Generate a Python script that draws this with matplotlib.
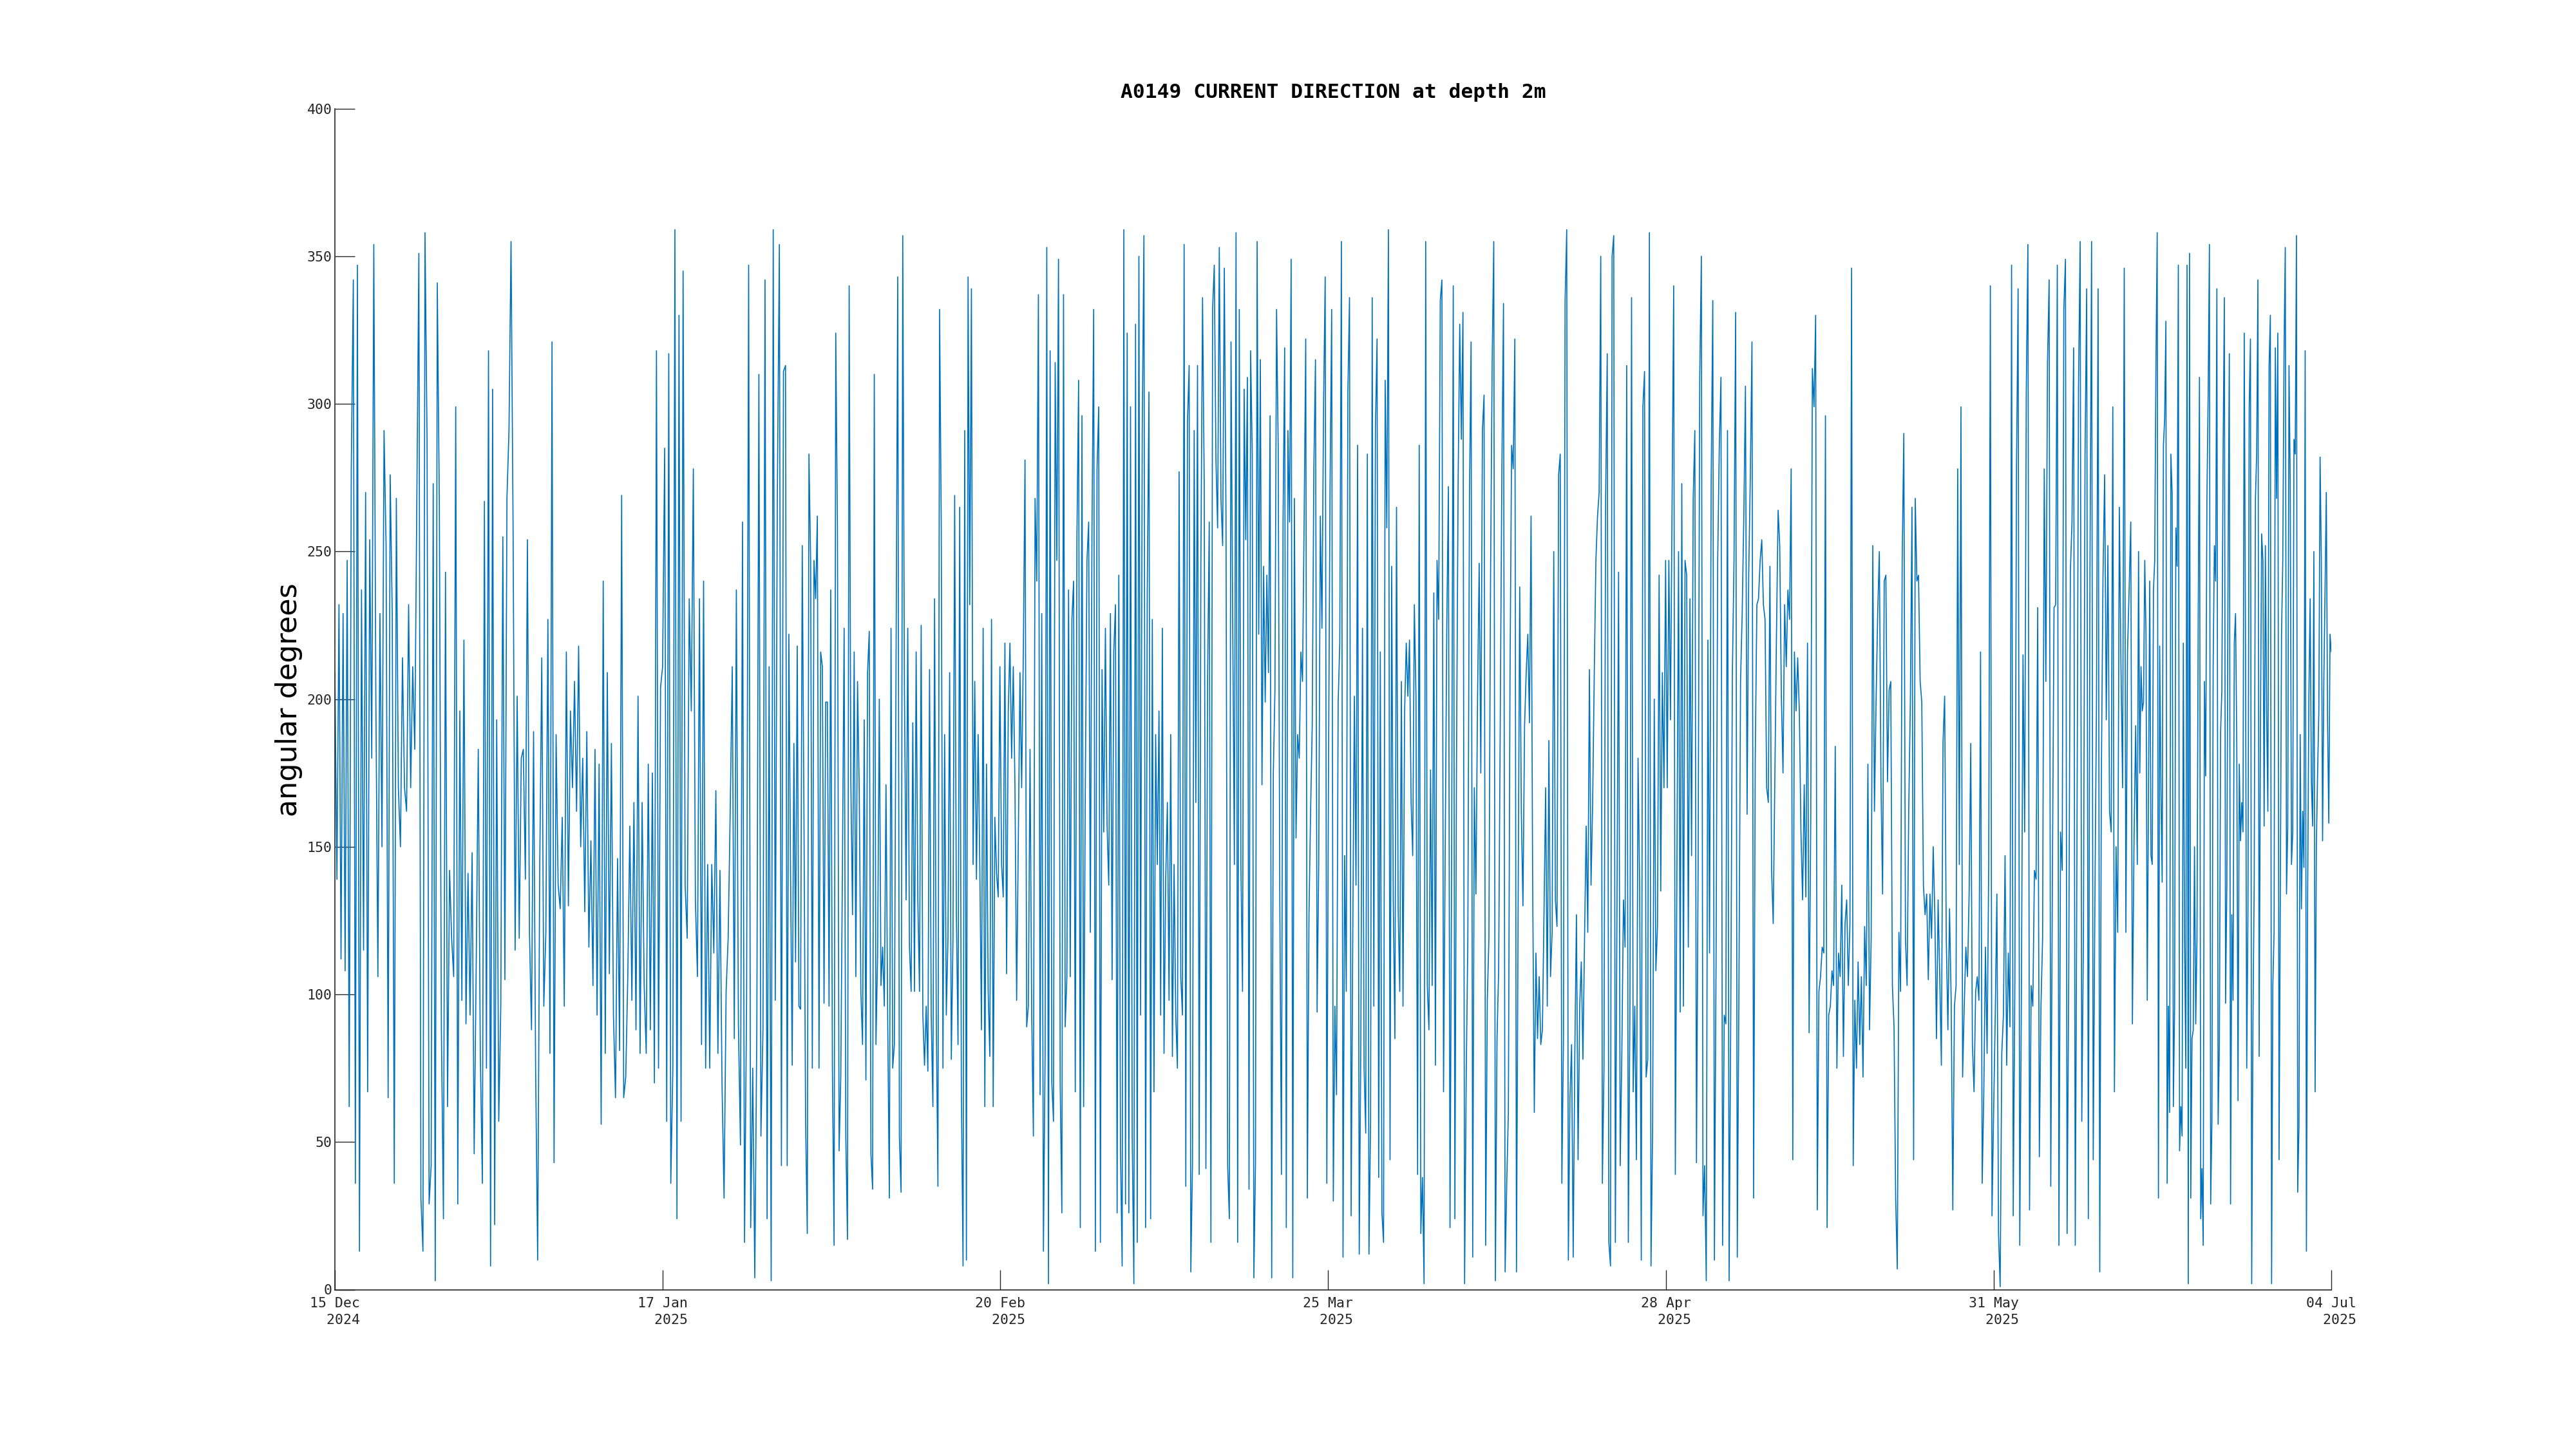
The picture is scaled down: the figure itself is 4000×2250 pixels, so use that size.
import numpy as np
import matplotlib.pyplot as plt

# current direction (deg) in five consecutive stretches
dir_dec_jan = [209,139,232,112,229,108,247,62,278,342,36,347,13,237,115,270,67,254,180,354,201,106,229,150,291,252,65,276,229,36,268,170,150,214,170,162,232,170,211,183,266,351,31,13,358,288,29,42,273,3,341,266,88,24,243,62,142,119,106,299,29,196,98,220,90,141,93,148,46,110,183,80,36,267,75,318,8,305,22,193,57,96,255,105,268,291,355,258,115,201,119,180,183,139,254,121,88,189,75,10,142,214,96,121,227,80,321,43,188,137,129,160,96,216,130,196,170,206,162,218,150,180,128,189,116,152,103,183,93,178,56,240,80,209,107,185,93,65,146,81,269,65,72,106,157,98,165,88,201,80,165,103,80,178,88,175,70,318,75,204,211,285,57,317,36,75,359,24,330,57,345,137,119,234,196,278,132,106,234,83,240,75,144,75,144,114,169,80,142,70,31,101,119,162,211,85,237,90,49,260,16,98,347,21,75,4,89,310,52,88,342,24,211,3,359,98,268,354,42,311]
dir_jan_mar = [313,42,222,142,76,185,111,218,96,95,252,162,57,19,283,247,75,247,234,262,75,216,211,97,199,199,96,237,75,15,324,258,47,72,144,224,52,17,340,173,127,216,106,206,170,101,83,193,71,209,223,46,34,310,83,114,200,103,116,96,171,93,31,224,75,83,214,343,52,33,357,204,132,224,116,101,192,101,216,132,101,225,93,76,96,74,210,93,62,234,93,35,332,258,75,188,93,119,209,78,119,269,128,83,265,67,8,291,10,343,232,339,144,206,139,188,144,88,224,62,178,101,79,227,62,160,141,133,211,144,133,219,107,196,219,180,211,170,98,152,209,170,216,281,89,96,183,93,52,268,240,337,66,229,13,80,353,2,318,70,57,314,247,349,70,26,337,89,106,237,106,227,240,67,255,308,21,296,62,170,247,260,121,258,332,13,278,299,16,210,155,224,157,137,229,105,216,232,26,242,48,8,359,29,324,26,299,52,2,327,16,350,93,291,357,21,237,304,24,227,67,188,144,196,93,224,80,139,165,98,188,79,144,93,75,277,106,93,354,35,294,313,6,43,291,165,313,39,245,336,273,41,206,260,16,332,347,281,258,353,268,252,346,262,42,24,321,227,144]
dir_mar_apr = [358,16,332,144,101,305,254,309,34,318,283,4,43,355,222,315,171,245,199,242,209,296,4,175,203,332,286,132,39,260,319,21,291,260,349,4,268,153,188,180,216,206,260,322,31,127,162,191,278,315,94,144,262,224,300,343,36,172,272,332,30,96,66,199,219,355,11,147,101,304,336,25,119,201,137,286,12,85,224,75,53,283,12,57,336,96,292,322,38,216,26,16,308,258,359,44,245,132,85,265,129,101,206,96,196,219,201,220,165,147,232,201,39,286,19,38,2,355,103,88,176,103,236,76,247,227,335,342,67,144,224,272,21,144,340,24,178,273,327,288,331,2,72,119,268,321,11,170,134,201,246,175,291,303,15,98,119,240,314,355,3,85,108,193,278,334,6,36,60,206,286,278,322,6,127,238,162,130,191,209,222,192,262,137,60,114,85,106,83,88,128,170,96,186,106,121,250,132,123,276,283,36,85,335,359,10,65,83,11,80,127,44,96,111,78,119,157,121,210,137,165,209,247,262,270,350,36,75,268,317,16,8,350,357,16,132,243,42,80,132,116,313,16,96,336,67,96,44,180,137,10,299,311,72,78,358,8,55,200,108,123,242,135,209,170,247,170,247,193,268,340,39,144,250,94,273,96,247]
dir_apr_jun = [242,116,234,147,268,291,43,142,309,350,25,42,3,220,114,273,335,10,111,247,286,309,15,93,90,291,3,93,209,247,331,11,101,206,229,262,306,161,242,276,321,31,180,232,234,247,254,232,227,170,165,245,142,124,172,222,264,252,201,175,232,211,237,227,278,44,216,196,214,196,155,132,171,133,219,87,160,312,299,330,27,101,106,116,114,296,21,93,96,108,103,184,75,114,106,137,79,124,132,103,124,346,42,98,75,111,83,106,72,123,103,178,88,119,252,162,199,229,250,172,134,240,242,172,203,206,103,89,31,7,121,101,247,290,119,103,162,199,265,44,268,240,242,206,199,137,127,134,105,134,119,150,127,85,132,106,76,185,201,119,88,129,98,27,96,103,278,144,299,72,96,116,106,134,185,83,67,101,106,98,216,36,67,116,80,144,340,25,60,93,134,19,1,80,93,147,76,114,89,347,25,103,278,339,15,98,215,155,304,354,27,103,96,142,139,231,45,96,119,278,206,314,342,35,139,231,232,347,15,155,142,332,349,19,106,243,260,319,15,144,306,355,57,119,283,339,24,242,355,44,129,199,339,6,175,242,276,193,252,162,155,299,67,150,121,265,211,170,346,121,216,237,260,90,152,191]
dir_jun_jul = [144,250,175,211,196,199,247,222,98,170,240,147,144,237,247,314,358,31,218,170,138,286,295,328,36,96,60,283,270,62,96,258,245,347,47,62,52,219,119,75,347,2,351,31,85,88,150,90,119,228,309,24,41,15,206,174,268,304,354,29,57,211,252,240,339,56,83,189,203,283,336,97,137,247,317,29,127,98,219,229,185,64,178,152,165,155,324,222,75,129,299,322,2,90,137,268,283,342,79,188,256,247,157,252,196,162,313,330,2,103,121,319,268,324,44,132,222,247,317,353,134,157,313,273,144,155,288,283,357,33,55,188,129,162,143,318,13,134,201,234,172,157,250,67,150,175,196,282,247,152,206,237,270,193,158,222,216]

segments = [dir_dec_jan, dir_jan_mar, dir_mar_apr, dir_apr_jun, dir_jun_jul]
seg_edges = [0, 45.37, 90.73, 136.1, 181.47, 201.0]   # days since start

tick_dates = ['2024-12-15', '2025-01-17', '2025-02-20', '2025-03-25',
              '2025-04-28', '2025-05-31', '2025-07-04']
tick_labels = ['15 Dec\n  2024', '17 Jan\n  2025', '20 Feb\n  2025', '25 Mar\n  2025',
               '28 Apr\n  2025', '31 May\n  2025', '04 Jul\n  2025']

start = np.datetime64('2024-12-15T00:00')
days = []
for i, seg in enumerate(segments):
    last = i == len(segments) - 1
    days.append(np.linspace(seg_edges[i], seg_edges[i + 1], len(seg), endpoint=last))
days = np.concatenate(days)
t = start + (days * 86400).astype('timedelta64[s]')
vals = np.concatenate([np.array(s, float) for s in segments])

fig = plt.figure(figsize=(40, 22.5), dpi=100)
ax = fig.add_axes([0.13, 0.11, 0.775, 0.815])
ax.plot(t, vals, color='#0072BD', linewidth=1.2)

ax.set_xlim(np.datetime64('2024-12-15'), np.datetime64('2025-07-04'))
ax.set_ylim(0, 400)
ax.set_yticks(np.arange(0, 401, 50))
ax.set_xticks([np.datetime64(d) for d in tick_dates])
ax.set_xticklabels(tick_labels, linespacing=1.4)

mono = 'DejaVu Sans Mono'
for lab in ax.get_xticklabels() + ax.get_yticklabels():
    lab.set_fontfamily(mono)
    lab.set_fontsize(15.5)
    lab.set_color('#262626')

for s in ['top', 'right']:
    ax.spines[s].set_visible(False)
for s in ['left', 'bottom']:
    ax.spines[s].set_color('#262626')
    ax.spines[s].set_linewidth(1.2)
ax.tick_params(direction='in', length=22, width=1, color='#262626')
ax.tick_params(axis='x', pad=8)
ax.tick_params(axis='y', pad=3)

ax.set_title('A0149 CURRENT DIRECTION at depth 2m', fontfamily=mono,
             fontsize=22.5, fontweight='bold', pad=12)
fig.text(449 / 4000, 1 - 1087 / 2250, 'angular degrees', rotation=90,
         ha='center', va='center', fontsize=32, color='#000000')

fig.savefig('out.png', dpi=100, facecolor='white')
